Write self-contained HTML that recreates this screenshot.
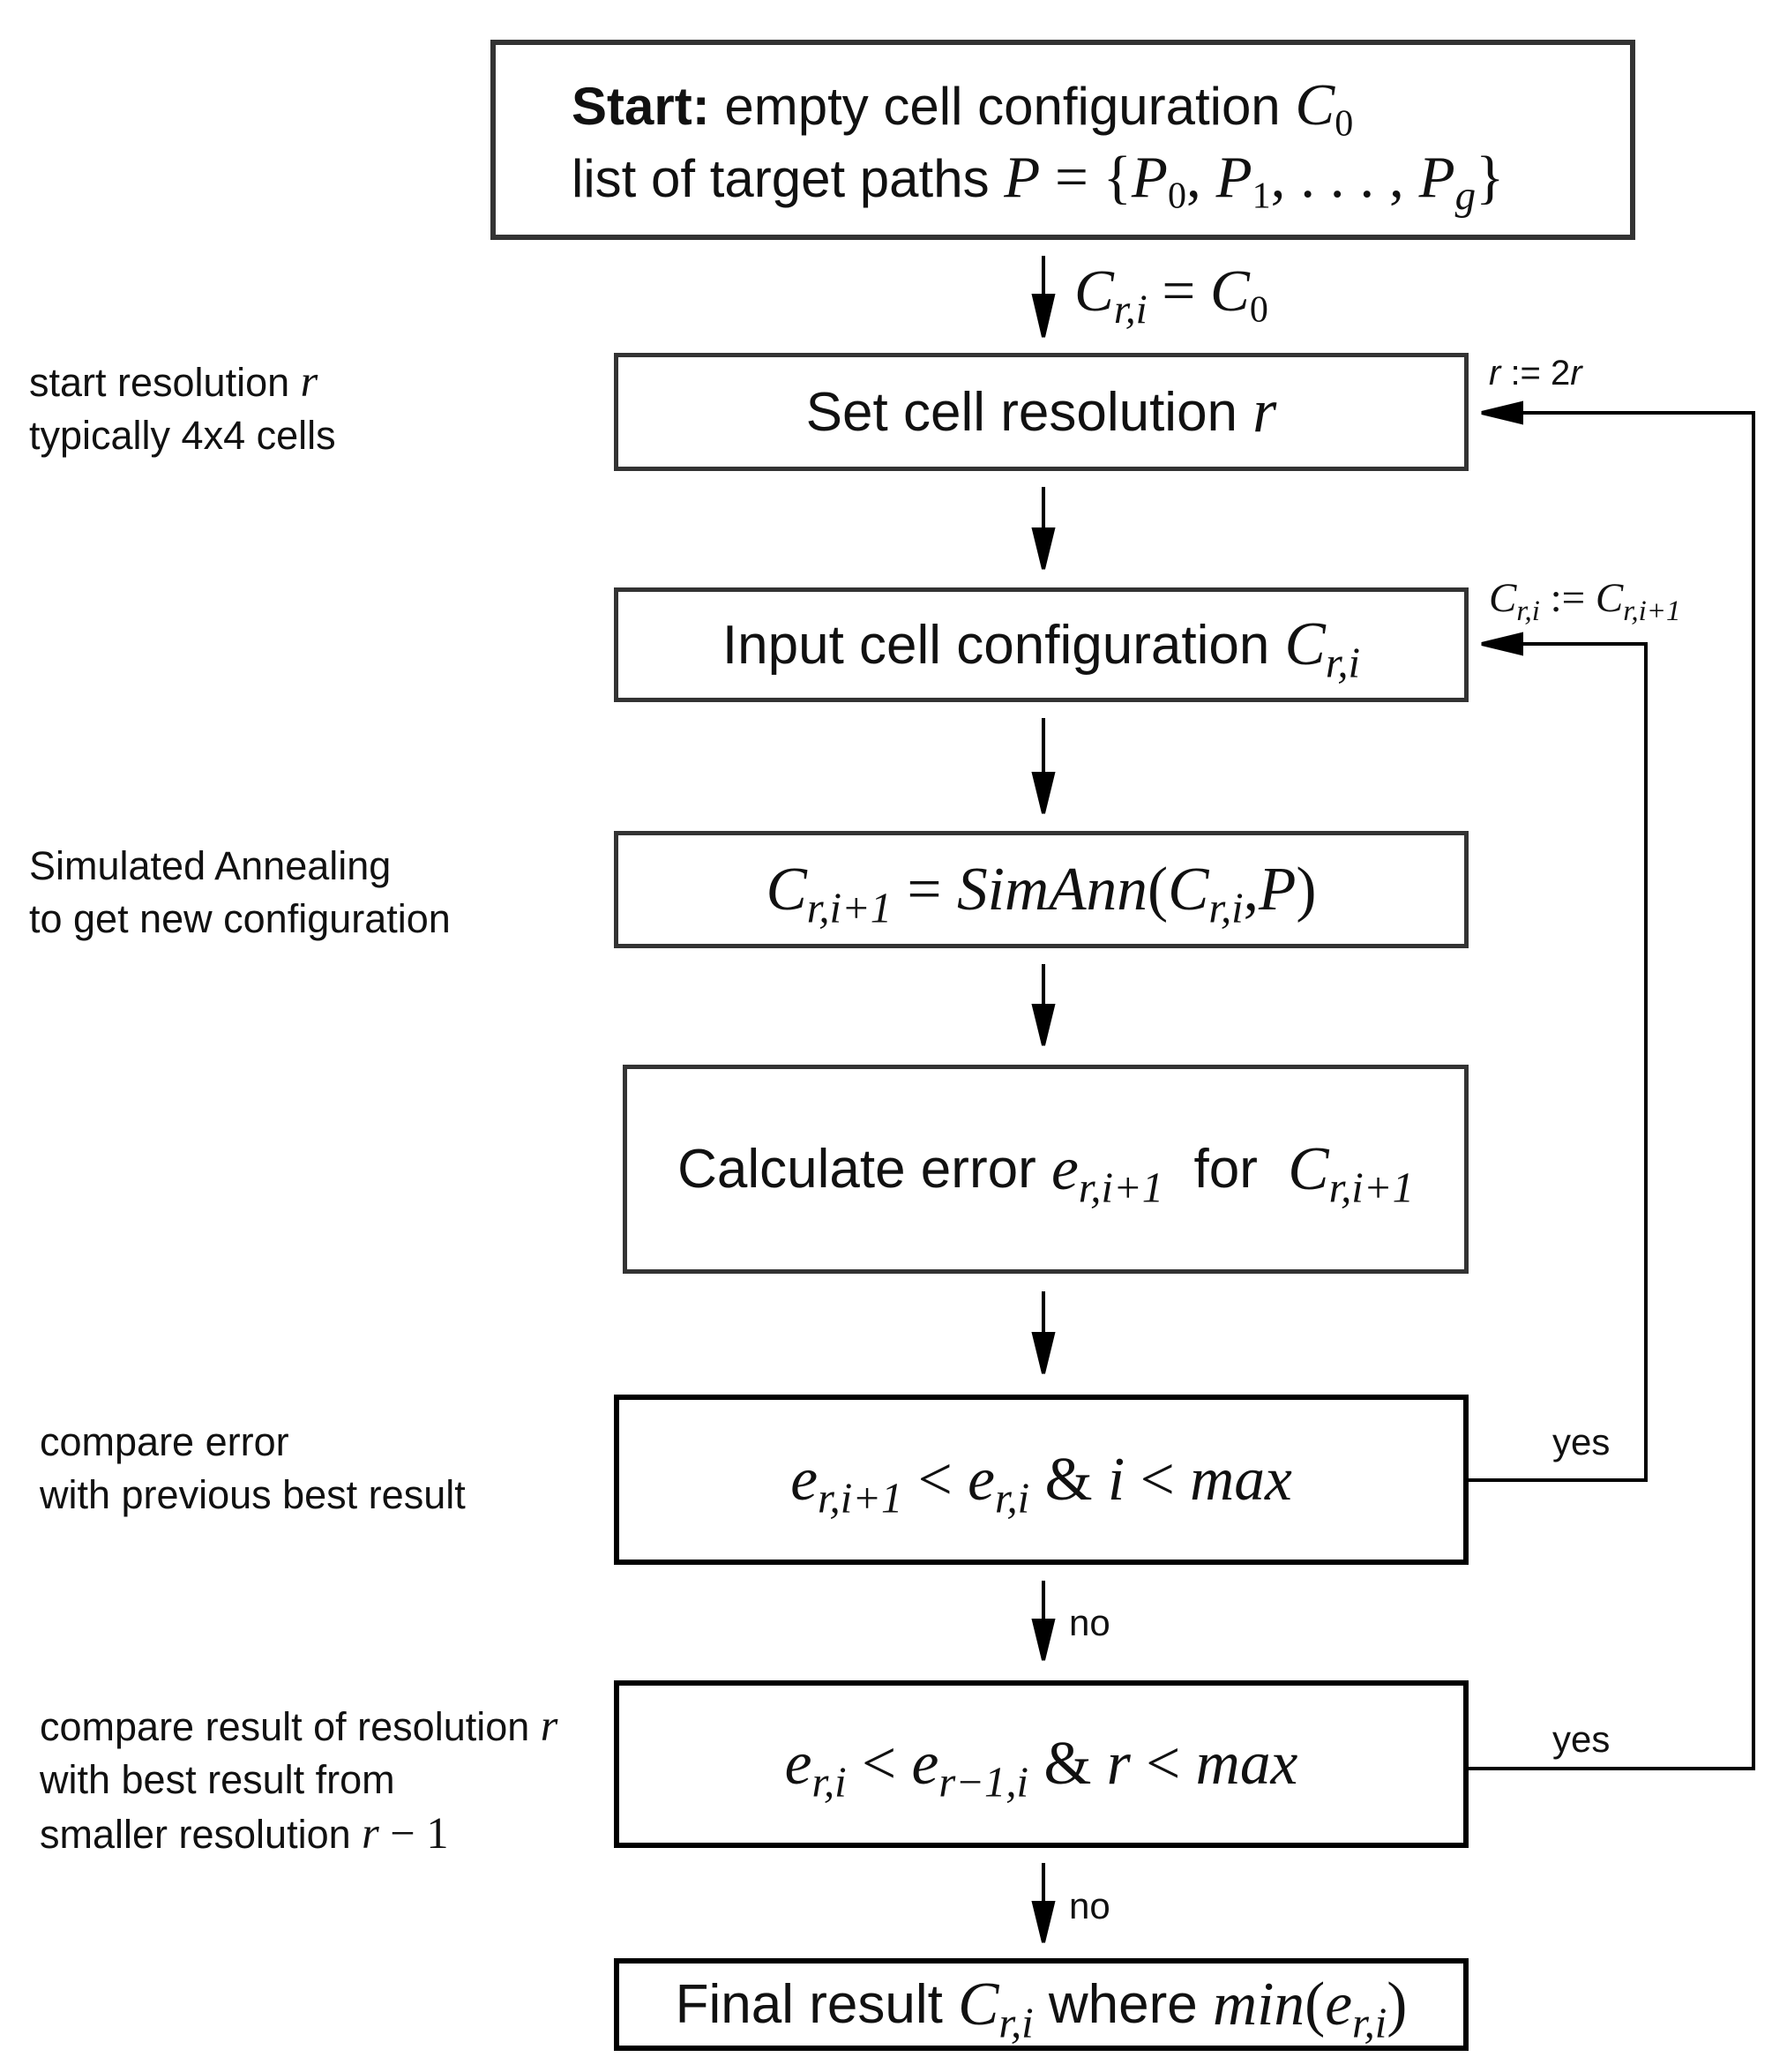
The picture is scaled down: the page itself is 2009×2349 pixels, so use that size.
<!DOCTYPE html>
<html><head><meta charset="utf-8"><style>
body{margin:0;width:2009px;height:2349px;background:#fff;position:relative;overflow:hidden;font-family:"Liberation Sans",sans-serif;color:#111}
.box{position:absolute;box-sizing:border-box;border:5px solid #333;display:flex;align-items:center;justify-content:center;font-size:62px;white-space:nowrap}
.t{position:absolute;white-space:nowrap;font-size:45px;line-height:60px}
i,.m{font-family:"Liberation Serif",serif;font-style:italic;font-size:1.12em}
.r{font-family:"Liberation Serif",serif;font-style:normal;font-size:1.12em}
sub{font-size:0.7em;vertical-align:-0.3em;line-height:0;font-family:"Liberation Serif",serif;font-style:italic}
</style></head><body>
<svg width="2009" height="2349" style="position:absolute;left:0;top:0">
<g stroke="#000" stroke-width="4" fill="none">
<line x1="1183" y1="290" x2="1183" y2="335"/><path d="M1172,335 L1194,335 L1183,382 Z" fill="#000"/>
<line x1="1183" y1="552" x2="1183" y2="600"/><path d="M1172,600 L1194,600 L1183,645 Z" fill="#000"/>
<line x1="1183" y1="814" x2="1183" y2="877"/><path d="M1172,877 L1194,877 L1183,922 Z" fill="#000"/>
<line x1="1183" y1="1093" x2="1183" y2="1140"/><path d="M1172,1140 L1194,1140 L1183,1185 Z" fill="#000"/>
<line x1="1183" y1="1464" x2="1183" y2="1512"/><path d="M1172,1512 L1194,1512 L1183,1557 Z" fill="#000"/>
<line x1="1183" y1="1792" x2="1183" y2="1837"/><path d="M1172,1837 L1194,1837 L1183,1882 Z" fill="#000"/>
<line x1="1183" y1="2112" x2="1183" y2="2157"/><path d="M1172,2157 L1194,2157 L1183,2202 Z" fill="#000"/>
<polyline points="1665,1678 1866,1678 1866,730 1725,730"/><path d="M1725,719 L1725,741 L1680,730 Z" fill="#000"/>
<polyline points="1665,2005 1988,2005 1988,468 1725,468"/><path d="M1725,457 L1725,479 L1680,468 Z" fill="#000"/>
</g></svg>

<div class="box" style="left:556px;top:45px;width:1298px;height:227px;border-width:6px;justify-content:flex-start;padding-left:86px">
<div style="line-height:80px;font-size:60px;margin-top:4px"><b>Start:</b> empty cell configuration <i>C</i><sub style="font-style:normal">0</sub><br>list of target paths <i>P</i> <span class="r">= {</span><i>P</i><sub style="font-style:normal">0</sub><span class="r">, </span><i>P</i><sub style="font-style:normal">1</sub><span class="r">, . . . , </span><i>P<sub>g</sub></i><span class="r">}</span></div></div>

<div class="t" style="left:1218px;top:300px;font-size:60px"><i>C<sub>r,i</sub></i> <span class="r">=</span> <i>C</i><sub style="font-style:normal">0</sub></div>

<div class="box" style="left:696px;top:400px;width:969px;height:134px">Set cell resolution&nbsp;<i>r</i></div>
<div class="box" style="left:696px;top:666px;width:969px;height:130px">Input cell configuration&nbsp; <i>C<sub>r,i</sub></i></div>
<div class="box" style="left:696px;top:942px;width:969px;height:133px"><span class="m">C<sub>r,i+1</sub></span><span class="r">&nbsp;=&nbsp;</span><i>SimAnn</i><span class="r">(</span><i>C<sub>r,i</sub></i><span class="r">, </span><i>P</i><span class="r">)</span></div>
<div class="box" style="left:706px;top:1207px;width:959px;height:237px">Calculate error&nbsp;<i>e<sub>r,i+1</sub></i>&nbsp;&nbsp;for&nbsp;&nbsp;<i>C<sub>r,i+1</sub></i></div>
<div class="box" style="left:696px;top:1581px;width:969px;height:193px;border-width:6px;border-color:#000"><i>e<sub>r,i+1</sub></i><span class="r">&nbsp;&lt;&nbsp;</span><i>e<sub>r,i</sub></i><span class="r">&nbsp;&amp;&nbsp;</span><i>i</i><span class="r">&nbsp;&lt;&nbsp;</span><i>max</i></div>
<div class="box" style="left:696px;top:1905px;width:969px;height:190px;border-width:6px;border-color:#000"><i>e<sub>r,i</sub></i><span class="r">&nbsp;&lt;&nbsp;</span><i>e<sub>r−1,i</sub></i><span class="r">&nbsp;&amp;&nbsp;</span><i>r</i><span class="r">&nbsp;&lt;&nbsp;</span><i>max</i></div>
<div class="box" style="left:696px;top:2220px;width:969px;height:105px;border-width:6px;border-color:#000">Final result&nbsp;<i>C<sub>r,i</sub></i>&nbsp;where&nbsp;<i>min</i><span class="r">(</span><i>e<sub>r,i</sub></i><span class="r">)</span></div>

<div class="t" style="left:1688px;top:393px;font-size:40px"><span style="font-style:italic">r</span> := 2<span style="font-style:italic">r</span></div>
<div class="t" style="left:1688px;top:648px;font-size:42px"><i>C<sub>r,i</sub></i> <span class="r">:=</span> <i>C<sub>r,i+1</sub></i></div>
<div class="t" style="left:1760px;top:1605px;font-size:42px">yes</div>
<div class="t" style="left:1760px;top:1942px;font-size:42px">yes</div>
<div class="t" style="left:1212px;top:1810px;font-size:42px">no</div>
<div class="t" style="left:1212px;top:2131px;font-size:42px">no</div>

<div class="t" style="left:33px;top:402px">start resolution <i>r</i><br>typically 4x4 cells</div>
<div class="t" style="left:33px;top:952px">Simulated Annealing<br>to get new configuration</div>
<div class="t" style="left:45px;top:1605px">compare error<br>with previous best result</div>
<div class="t" style="left:45px;top:1926px">compare result of resolution <i>r</i><br>with best result from<br>smaller resolution <i>r</i> <span class="r">− 1</span></div>
</body></html>
